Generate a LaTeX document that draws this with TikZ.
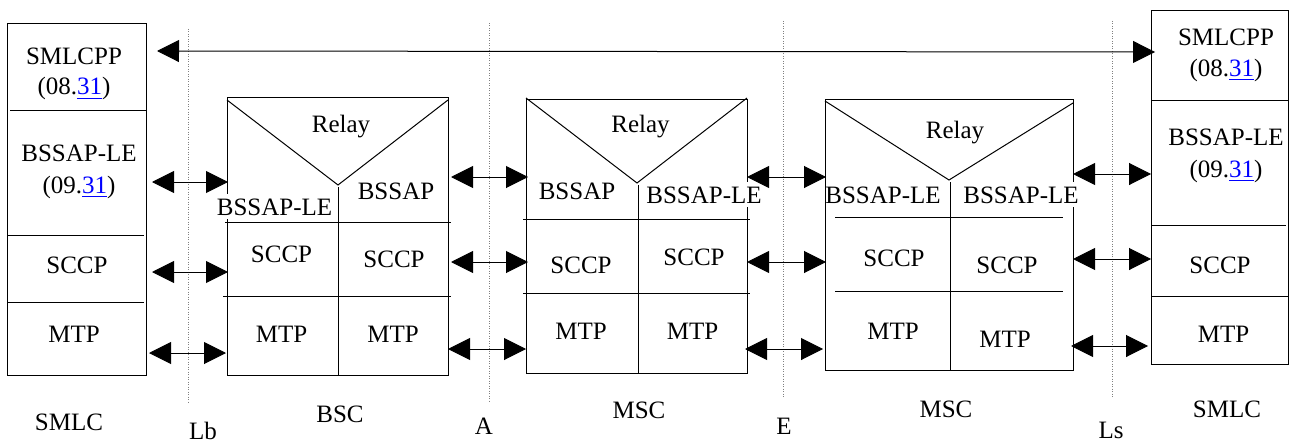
\documentclass[tikz,border=0pt]{standalone}
\usepackage{fontspec}
\setmainfont{Liberation Serif}
\usetikzlibrary{arrows.meta}
\newcommand{\bluelink}[1]{\textcolor{blue}{\underline{#1}}}

\begin{document}
\begin{tikzpicture}[
x=0.5pt, y=-0.5pt,
line width=0.5pt,
txt/.style={anchor=base, inner sep=1pt, font=\fontsize{12.5}{15}\selectfont},
mask/.style={txt, fill=white, inner sep=2pt},
iface/.style={gray, line width=0.4pt, dash pattern=on 0.5pt off 0.75pt},
link/.style={{Triangle[length=11pt,width=11pt]}-{Triangle[length=11pt,width=11pt]}}]

\useasboundingbox (0,0) rectangle (1289,444);

% SMLC left
\draw (7,24) rectangle (146,375);
\draw (10,111) -- (146,111);
\draw (7,235) -- (144,235);
\draw (7,302) -- (144,302);

% BSC
\draw (227,98) rectangle (448,375);
\draw (227,100) -- (338,185) -- (448,100);
\draw (338,187) -- (338,375);
\draw (225,222) -- (451,222);
\draw (223,296) -- (451,296);

% MSC
\draw (526,100) rectangle (747,373);
\draw (526,98) -- (637,183) -- (747,98);
\draw (638,185) -- (638,373);
\draw (523,219) -- (750,219);
\draw (523,293) -- (750,293);

% MSC
\draw (825,100) rectangle (1073,370);
\draw (825,101) -- (949,180) -- (1073,103);
\draw (950,182) -- (950,370);
\draw (835,217) -- (1063,217);
\draw (835,291) -- (1063,291);

% SMLC right
\draw (1151,11) rectangle (1288,364);
\draw (1151,101) -- (1288,101);
\draw (1151,225) -- (1286,225);
\draw (1151,296) -- (1288,296);

% interfaces
\draw[iface] (188,29) -- (188,404);
\draw[iface] (489,23) -- (489,402);
\draw[iface] (783,21) -- (783,398);
\draw[iface] (1112,21) -- (1112,397);

\node[txt] (s1) at (74,65) {SMLCPP};
\node[txt] (s2) at (74,95) {(08.\bluelink{31})};
\node[txt] (s3) at (79,162) {BSSAP-LE};
\node[txt] (s4) at (79,193) {(09.\bluelink{31})};
\node[txt] (s5) at (77,273) {SCCP};
\node[txt] (s6) at (74,342) {MTP};
\node[txt] (s7) at (69,430) {SMLC};
\node[txt] (lb) at (203,439) {Lb};

\node[txt] (b1) at (341,133) {Relay};
\node[mask] (b2) at (274.5,215) {BSSAP-LE};
\node[txt] (b3) at (396,199) {BSSAP};
\node[txt] (b4) at (281.5,262) {SCCP};
\node[txt] (b5) at (394,267) {SCCP};
\node[txt] (b6) at (281.5,342) {MTP};
\node[txt] (b7) at (393,342) {MTP};
\node[txt] (bsc) at (340,422) {BSC};

\node[txt] (m1) at (640.5,133) {Relay};
\node[txt] (m2) at (577,199) {BSSAP};
\node[mask] (m3) at (704,203) {BSSAP-LE};
\node[txt] (m4) at (581,273) {SCCP};
\node[txt] (m5) at (694,265) {SCCP};
\node[txt] (m6) at (581,339) {MTP};
\node[txt] (m7) at (692.5,339) {MTP};
\node[txt] (msca) at (639,418) {MSC};
\node[txt] (ia) at (484,434) {A};
\node[txt] (ie) at (784,434) {E};

\node[txt] (n1) at (955,138) {Relay};
\node[txt] (n2) at (883,203) {BSSAP-LE};
\node[mask] (n3) at (1021,203) {BSSAP-LE};
\node[txt] (n4) at (894,266) {SCCP};
\node[txt] (n5) at (1007,273) {SCCP};
\node[txt] (n6) at (893,339) {MTP};
\node[txt] (n7) at (1005,347) {MTP};
\node[txt] (mscb) at (946,417) {MSC};
\node[txt] (ls) at (1111,438) {Ls};

\node[txt] (r1) at (1226,46) {SMLCPP};
\node[txt] (r2) at (1226,76) {(08.\bluelink{31})};
\node[txt] (r3) at (1226,146) {BSSAP-LE};
\node[txt] (r4) at (1226,177) {(09.\bluelink{31})};
\node[txt] (r5) at (1220,273) {SCCP};
\node[txt] (r6) at (1223.5,342) {MTP};
\node[txt] (r7) at (1227,417) {SMLC};

\coordinate (pl) at (157,51);
\coordinate (pr) at (1155,52);
\draw[link] (pl) -- (pr);

\foreach \n/\xa/\xb/\y in {lb1/152/228/182, lb2/152/228/272, lb3/149/226/353,
  a1/451/528/177, a2/451/528/262, a3/448/526/349,
  e1/747/826/177, e2/747/826/262, e3/745/823/349,
  ls1/1073/1151/174, ls2/1073/1151/259, ls3/1071/1148/346}
{\coordinate (\n-l) at (\xa,\y);
 \coordinate (\n-r) at (\xb,\y);
 \draw[link] (\n-l) -- (\n-r);}
\end{tikzpicture}
\end{document}
